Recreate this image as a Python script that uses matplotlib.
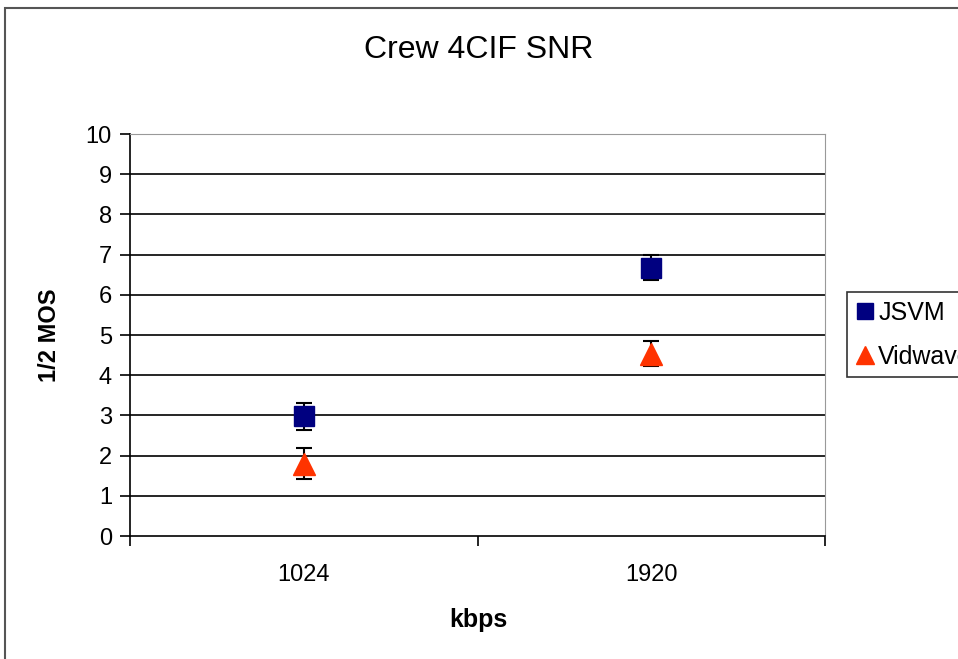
import matplotlib
matplotlib.use("Agg")
import matplotlib.pyplot as plt
from matplotlib.patches import Rectangle
from matplotlib.lines import Line2D

plt.rcParams['font.family'] = ['Liberation Sans', 'DejaVu Sans']

categories = ['1024', '1920']
jsvm = [2.98, 6.67]
jsvm_err = [0.33, 0.31]
vidwave = [1.80, 4.54]
vidwave_err = [0.39, 0.31]

fig = plt.figure(figsize=(9.58, 6.59), dpi=100)
fig.patches.append(Rectangle((5 / 958, -0.2), 1.2, 1.2 - 8 / 659,
                             transform=fig.transFigure, fill=False,
                             edgecolor='#555555', linewidth=1.5))

ax = fig.add_axes([0.1357, 0.1866, 0.7255, 0.6100])
xpos = [0.5, 1.5]

ax.errorbar(xpos, jsvm, yerr=jsvm_err, fmt='s', color='#000080', ecolor='black',
            markersize=14, capsize=5.5, elinewidth=1.5, capthick=1.5, zorder=3)
ax.errorbar(xpos, vidwave, yerr=vidwave_err, fmt='^', color='#FF3300', ecolor='black',
            markersize=16, capsize=5.5, elinewidth=1.5, capthick=1.5, zorder=3)

ax.set_xlim(0, 2)
ax.set_ylim(0, 10)
ax.set_yticks(range(0, 11))
for y in range(1, 11):
    ax.axhline(y, color='black', linewidth=1.2, zorder=1)

ax.set_xticks([0, 1, 2])
ax.set_xticklabels([])
ax.set_xticks(xpos, minor=True)
ax.set_xticklabels(categories, minor=True)
ax.tick_params(axis='x', which='major', direction='out', length=7, width=1.2)
ax.tick_params(axis='x', which='minor', length=0, pad=20, labelsize=17)
ax.tick_params(axis='y', direction='out', length=7, width=1.2, pad=6, labelsize=17)

ax.spines['left'].set_color('black')
ax.spines['bottom'].set_color('black')
ax.spines['left'].set_linewidth(1.2)
ax.spines['bottom'].set_linewidth(1.2)
ax.spines['top'].set_color('#999999')
ax.spines['right'].set_color('#999999')

fig.text(0.5, 0.924, 'Crew 4CIF SNR', ha='center', va='center', fontsize=23)
fig.text(0.052, 0.492, '1/2 MOS', ha='center', va='center', rotation=90,
         fontsize=17, fontweight='bold')
fig.text(0.499, 0.059, 'kbps', ha='center', va='center', fontsize=18, fontweight='bold')

# legend box runs past the right edge, as in the original
handles = [Line2D([], [], linestyle='none', marker='s', color='#000080', markersize=11),
           Line2D([], [], linestyle='none', marker='^', color='#FF3300', markersize=13)]
leg = fig.legend(handles, ['JSVM', 'Vidwave'], loc='upper left',
                 bbox_to_anchor=(847 / 958, 1 - 292 / 659),
                 frameon=True, fancybox=False, fontsize=18, handlelength=0.7,
                 handletextpad=0.2, borderpad=0.35, labelspacing=0.8,
                 borderaxespad=0)
leg.get_frame().set_edgecolor('black')
leg.get_frame().set_linewidth(1.2)

fig.savefig('out.png', dpi=100)
